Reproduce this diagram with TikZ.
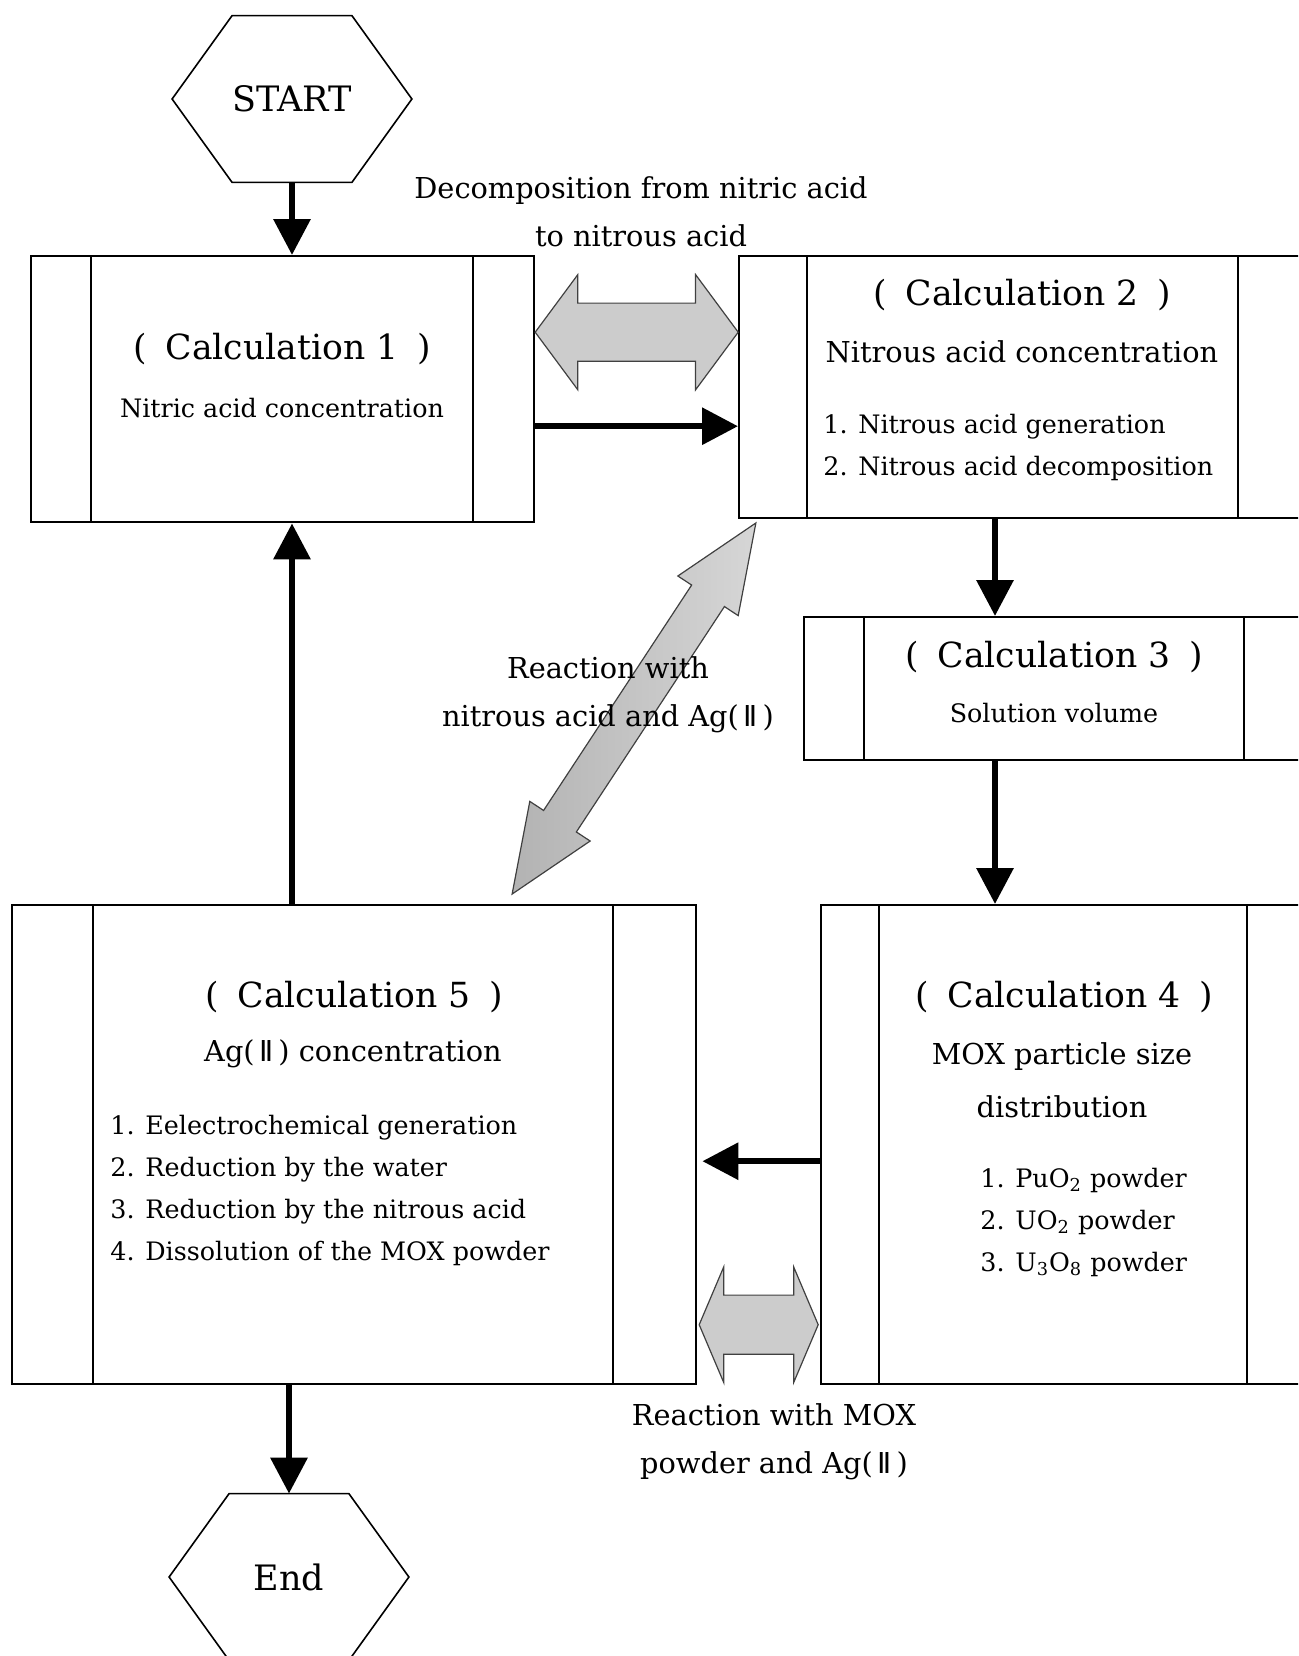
\documentclass[tikz,border=0pt]{standalone}
\usepackage{fontspec}
\setmainfont{DejaVu Serif}
\newfontfamily\romfont{DejaVu Sans}
\usetikzlibrary{positioning,calc,arrows.meta,shapes.arrows}

\newcommand{\AgII}{Ag({\romfont\,Ⅱ\,})}
\newcommand{\calcno}[1]{(\hspace{0.55em}Calculation #1\hspace{0.55em})}

\begin{document}
\begin{tikzpicture}[x=0.5pt, y=-0.5pt,
    calcbox/.style={draw, line width=1.2pt, anchor=north west, inner sep=0pt},
    divider/.style={line width=0.8pt},
    hexline/.style={line width=0.8pt},
    terminal/.style={minimum width=119.5pt, minimum height=83pt, inner sep=0pt, font=\fontsize{17.5}{20}\selectfont},
    flow/.style={line width=3.2pt, -{Triangle[length=18pt, width=18pt]}},
    wide/.style={double arrow, draw=black!75, line width=0.6pt, fill=gray!40, inner xsep=0pt},
    title/.style={inner sep=0pt, font=\fontsize{17.3}{20}\selectfont},
    big/.style={inner sep=0pt, font=\fontsize{14.4}{26.5}\selectfont, align=center},
    small/.style={inner sep=0pt, font=\fontsize{12.7}{21}\selectfont, align=left},
    note/.style={inner sep=0pt, font=\fontsize{14.4}{24}\selectfont, align=center}]

  \clip (0,0) rectangle (1298,1656);

  % start and end
  \node[terminal] (start) at (292,99) {START};
  \node[terminal] (finish) at (289,1577) {End};
  \foreach \term in {start,finish}
    \draw[hexline] (\term.west) -- ([xshift=30pt]\term.north west) -- ([xshift=-30pt]\term.north east)
      -- (\term.east) -- ([xshift=-30pt]\term.south east) -- ([xshift=30pt]\term.south west) -- cycle;

  % calculation boxes
  \node[calcbox, minimum width=251.5pt, minimum height=133pt] (calc1) at (30,255) {};
  \node[calcbox, minimum width=300pt, minimum height=131pt] (calc2) at (738,255) {};
  \node[calcbox, minimum width=268.5pt, minimum height=71.5pt] (calc3) at (803,616) {};
  \node[calcbox, minimum width=260pt, minimum height=239.5pt] (calc4) at (820,904) {};
  \node[calcbox, minimum width=342pt, minimum height=239.5pt] (calc5) at (11,904) {};
  \foreach \n/\a/\b in {calc1/30.5pt/221.5pt, calc2/34.5pt/250pt, calc3/30.5pt/220.5pt,
                        calc4/29.5pt/213.5pt, calc5/41pt/301pt}
    \draw[divider] ([xshift=\a]\n.north west) -- ([xshift=\a]\n.south west)
                   ([xshift=\b]\n.north west) -- ([xshift=\b]\n.south west);

  % box texts
  \node[title] (calc1title) at (282,349) {\calcno{1}};
  \node[small] (calc1text) at (282,408) {Nitric acid concentration};
  \node[title] (calc2title) at (1022,295) {\calcno{2}};
  \node[big] (calc2text) at (1022,352) {Nitrous acid concentration};
  \node[small, anchor=west] (calc2list) at (823,447) {1. Nitrous acid generation\\2. Nitrous acid decomposition};
  \node[title] (calc3title) at (1054,657) {\calcno{3}};
  \node[small] (calc3text) at (1054,713) {Solution volume};
  \node[title] (calc4title) at (1064,997) {\calcno{4}};
  \node[big] (calc4text) at (1062,1080) {MOX particle size\\distribution};
  \node[small, anchor=west] (calc4list) at (980,1222) {1. PuO\textsubscript{2} powder\\2. UO\textsubscript{2} powder\\3. U\textsubscript{3}O\textsubscript{8} powder};
  \node[title] (calc5title) at (354,997) {\calcno{5}};
  \node[big] (calc5text) at (353,1054) {\AgII{} concentration};
  \node[small, anchor=west] (calc5list) at (110,1190) {1. Eelectrochemical generation\\2. Reduction by the water\\3. Reduction by the nitrous acid\\4. Dissolution of the MOX powder};

  % flow arrows
  \draw[flow] (start.south) -- (start.south |- calc1.north);
  \draw[flow] ([yshift=-18.5pt]calc1.east) -- ([yshift=-18.5pt]calc1.east -| calc2.west);
  \coordinate (col) at (995,0);
  \draw[flow] (calc2.south -| col) -- (calc3.north -| col);
  \draw[flow] (calc3.south -| col) -- (calc4.north -| col);
  \draw[flow, shorten >=2.5pt] ([yshift=-8.25pt]calc4.west) -- ([yshift=-8.25pt]calc4.west -| calc5.east);
  \draw[flow] (calc5.north -| start) -- (calc1.south -| start);
  \draw[flow] (calc5.south -| finish) -- (finish.north);

  % reaction arrows
  \node[wide, inner ysep=14.25pt, minimum height=101.5pt, minimum width=57pt, double arrow head extend=14.25pt,
        double arrow tip angle=107] (decoarrow) at ($(calc1.east)!.5!(calc2.west)+(0,-56)$) {};
  \node[wide, inner ysep=14.5pt, minimum height=59.5pt, minimum width=57pt, double arrow head extend=14pt,
        double arrow tip angle=134] (moxarrow) at ($(calc5.east)!.5!(calc4.west)+(0,180)$) {};
  \coordinate (agend) at (512,894);
  \coordinate (niend) at (756,523);
  \node[wide, rotate=56.7, inner ysep=9.5pt, minimum height=222pt, minimum width=35.5pt, double arrow head extend=8.25pt,
        double arrow tip angle=45, left color=gray!60, right color=gray!32] (agarrow) at ($(agend)!.5!(niend)$) {};

  % reaction labels
  \node[note] (decolabel) at (641,212) {Decomposition from nitric acid\\to nitrous acid};
  \node[note] (aglabel) at (608,695) {Reaction with\\nitrous acid and \AgII};
  \node[note] (moxlabel) at (774,1442) {Reaction with MOX\\powder and \AgII};
\end{tikzpicture}
\end{document}
